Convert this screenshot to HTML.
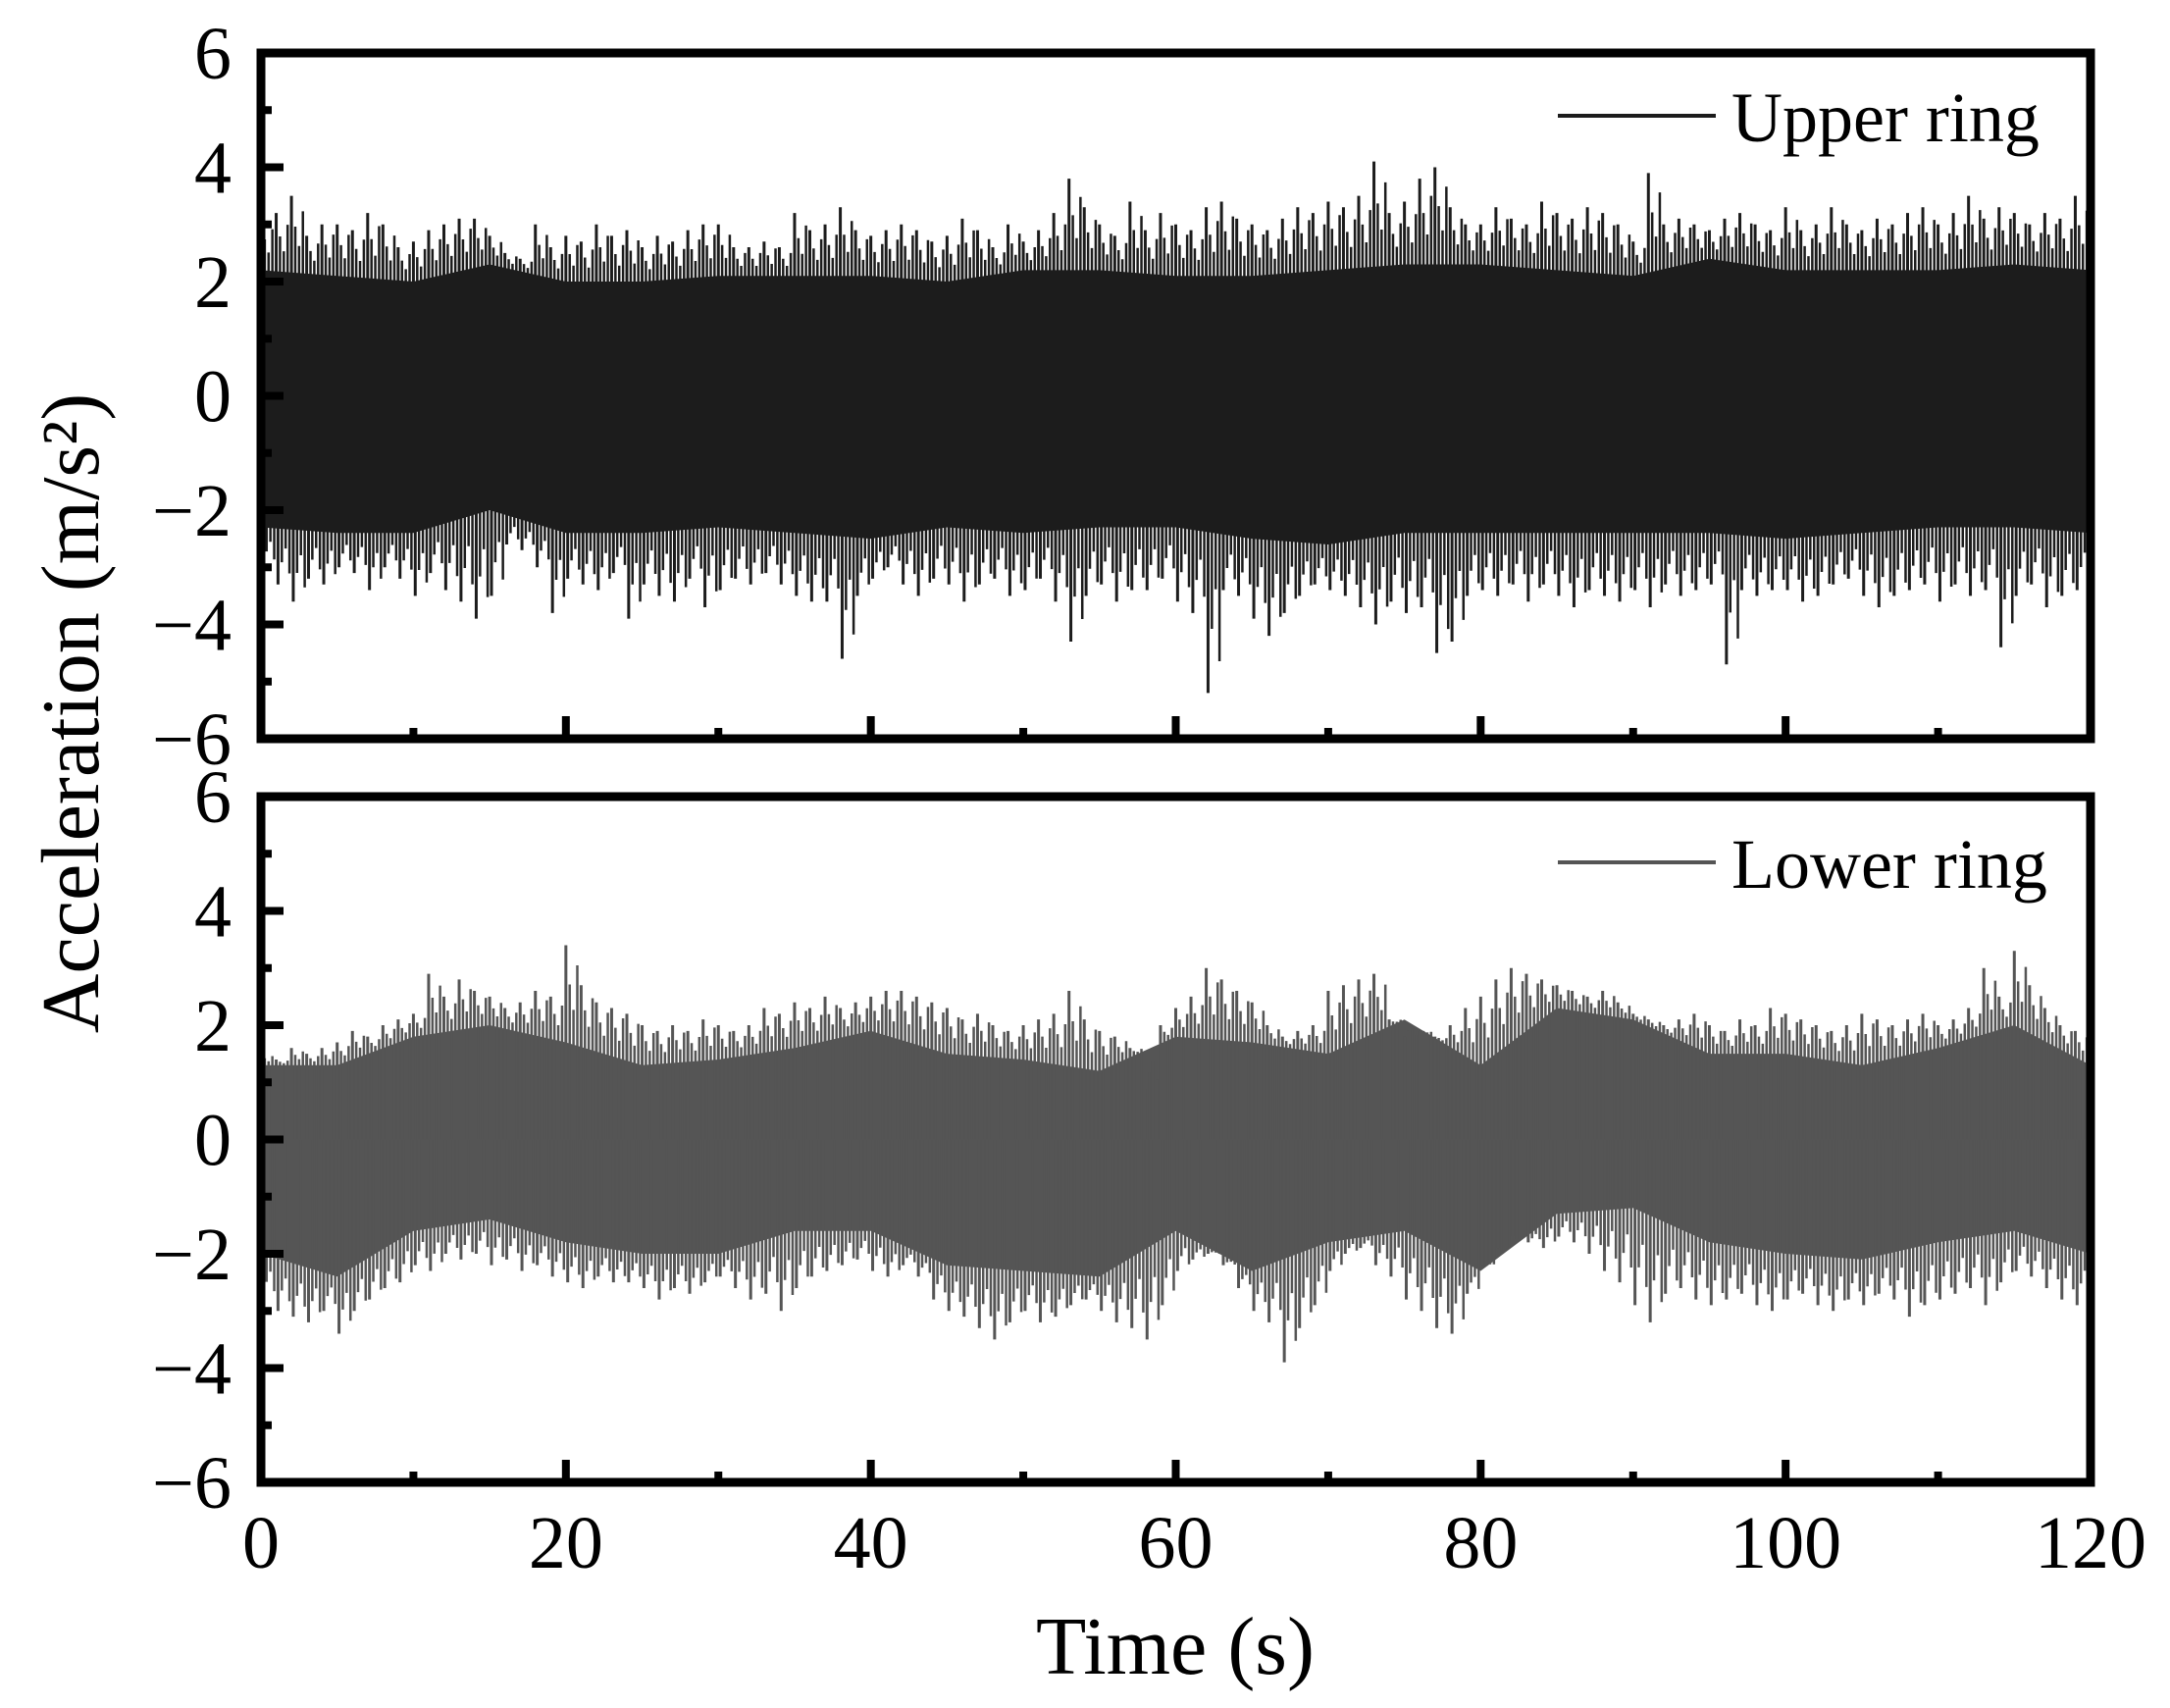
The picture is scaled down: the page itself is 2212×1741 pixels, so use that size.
<!DOCTYPE html>
<html><head><meta charset="utf-8"><style>
html,body{margin:0;padding:0;background:#fff;}
svg{display:block;font-family:"Liberation Serif",serif;}
</style></head><body>
<svg id="chart" width="2212" height="1741" viewBox="0 0 2212 1741" xmlns="http://www.w3.org/2000/svg">
<defs>
<clipPath id="clipTop"><rect x="266" y="54" width="1865" height="699"/></clipPath>
<clipPath id="clipBot"><rect x="266" y="812" width="1865" height="699"/></clipPath>
</defs>
<g id="topData" clip-path="url(#clipTop)"></g>
<g id="botData" clip-path="url(#clipBot)"></g>
<g id="axes"></g>
<text transform="translate(100,727) rotate(-90)" text-anchor="middle" font-size="84">Acceleration (m/s²)</text>
<text x="1198" y="1706" text-anchor="middle" font-size="84">Time (s)</text>
<g>
<line x1="1588" y1="118" x2="1749" y2="118" stroke="#1c1c1c" stroke-width="4"/>
<text x="1765" y="144" font-size="72">Upper ring</text>
</g>
<g>
<line x1="1588" y1="879" x2="1749" y2="879" stroke="#555" stroke-width="4"/>
<text x="1765" y="905" font-size="72">Lower ring</text>
</g>
</svg>
<script>
const xTicks = [0,20,40,60,80,100,120];
const yTicks = [-6,-4,-2,0,2,4,6];
const envTimes = [0,5,10,15,20,25,30,35,40,45,50,55,60,65,70,75,80,85,90,95,100,105,110,115,120];
const upperEnvTop = [2.2,2.1,2.0,2.3,2.0,2.0,2.1,2.1,2.1,2.0,2.2,2.2,2.1,2.1,2.2,2.3,2.3,2.2,2.1,2.4,2.2,2.2,2.2,2.3,2.2];
const upperEnvBot = [-2.3,-2.4,-2.4,-2.0,-2.4,-2.4,-2.3,-2.4,-2.5,-2.3,-2.4,-2.3,-2.3,-2.5,-2.6,-2.4,-2.4,-2.4,-2.4,-2.4,-2.5,-2.4,-2.3,-2.3,-2.4];
const upperPeakHi = [3.1,3.2,3.5,2.8,3.0,3.0,2.9,3.2,3.0,2.6,2.7,2.9,3.0,3.1,3.1,2.8,2.5,2.4,3.0,2.6,2.8,2.7,3.0,2.8,2.9,2.6,2.8,2.7,2.9,3.0,3.0,2.6,2.6,2.7,2.6,3.2,2.9,3.0,3.3,2.9,2.8,2.9,3.0,2.9,2.7,2.8,3.1,2.9,2.6,3.0,2.7,2.9,3.2,3.8,3.3,3.0,2.8,3.4,2.9,3.2,3.0,2.9,3.3,3.4,3.1,3.0,2.9,3.1,3.3,3.2,3.4,3.3,3.5,4.1,3.2,3.4,3.8,4.0,3.3,3.0,3.0,3.3,3.1,3.0,3.4,3.2,3.1,3.3,3.2,3.0,2.7,3.9,3.0,3.1,3.0,2.9,3.1,3.2,3.0,2.9,3.3,2.9,3.0,3.3,3.0,2.9,3.1,3.0,3.2,3.3,3.0,3.2,3.5,3.1,3.3,3.2,3.0,3.2,3.1,3.5,3.0];
const upperPeakLo = [-3.0,-3.3,-3.6,-3.2,-3.3,-3.0,-3.1,-3.4,-3.0,-3.2,-3.5,-3.1,-3.4,-3.6,-3.9,-3.5,-2.6,-2.7,-3.0,-3.8,-3.2,-3.3,-3.4,-3.1,-3.9,-3.3,-3.5,-3.6,-3.2,-3.7,-3.4,-3.2,-3.3,-3.1,-3.3,-3.5,-3.6,-3.6,-4.6,-3.5,-3.2,-3.0,-3.3,-3.5,-3.2,-3.3,-3.6,-3.3,-3.2,-3.5,-3.4,-3.2,-3.6,-4.3,-3.5,-3.3,-3.6,-3.4,-3.4,-3.2,-3.6,-3.8,-5.2,-3.4,-3.5,-3.9,-4.2,-3.8,-3.5,-3.3,-3.4,-3.5,-3.7,-4.0,-3.6,-3.8,-3.7,-4.5,-4.3,-3.5,-3.4,-3.5,-3.3,-3.6,-3.3,-3.5,-3.7,-3.4,-3.5,-3.6,-3.4,-3.7,-3.3,-3.5,-3.4,-3.3,-4.7,-3.4,-3.5,-3.4,-3.4,-3.6,-3.5,-3.3,-3.2,-3.5,-3.7,-3.5,-3.4,-3.3,-3.6,-3.3,-3.5,-3.4,-4.4,-3.5,-3.3,-3.7,-3.5,-3.4,-3.2];
const lowerEnvTop = [1.3,1.3,1.8,2.0,1.7,1.3,1.4,1.6,1.9,1.5,1.4,1.2,1.8,1.7,1.5,2.1,1.3,2.3,2.1,1.5,1.5,1.3,1.6,2.0,1.3];
const lowerEnvBot = [-2.0,-2.4,-1.6,-1.4,-1.8,-2.0,-2.0,-1.6,-1.6,-2.2,-2.3,-2.4,-1.6,-2.3,-1.8,-1.6,-2.3,-1.3,-1.2,-1.8,-2.0,-2.1,-1.8,-1.6,-2.0];
const lowerPeakHi = [1.5,1.4,1.6,1.5,1.6,1.7,1.9,1.8,2.0,2.1,2.2,2.9,2.5,2.8,2.6,2.5,2.3,2.4,2.6,2.5,3.4,2.7,2.4,2.3,2.2,2.0,1.9,2.0,1.9,2.1,2.0,1.9,2.0,2.3,2.2,2.4,2.3,2.5,2.3,2.4,2.5,2.6,2.6,2.5,2.4,2.3,2.1,2.2,2.0,1.9,2.0,2.1,2.2,2.6,2.1,1.9,1.8,1.6,0.9,2.0,2.3,2.5,3.0,2.8,2.6,2.4,2.0,1.8,1.9,2.0,2.6,2.7,2.8,2.9,2.1,1.8,1.9,1.8,2.0,2.3,2.5,2.8,3.0,2.9,2.8,2.7,2.6,2.5,2.6,2.4,2.2,2.1,2.0,2.1,2.2,2.0,1.9,2.1,2.0,2.3,2.2,2.1,2.0,1.9,2.0,2.2,2.1,2.0,2.1,2.2,2.0,2.1,2.3,3.0,2.5,3.3,2.7,2.3,2.0,1.9,1.8];
const lowerPeakLo = [-2.8,-3.0,-3.1,-3.2,-3.0,-3.4,-3.0,-2.8,-2.6,-2.5,-2.2,-2.3,-2.0,-2.1,-2.0,-2.2,-2.1,-2.3,-2.2,-2.4,-2.5,-2.6,-2.4,-2.5,-2.5,-2.6,-2.8,-2.6,-2.7,-2.5,-2.4,-2.6,-2.8,-2.7,-3.0,-2.6,-2.4,-2.3,-2.2,-2.1,-2.3,-2.4,-2.2,-2.4,-2.8,-3.0,-3.1,-3.3,-3.5,-3.2,-3.0,-3.2,-3.1,-2.9,-2.8,-3.0,-3.2,-3.3,-3.5,-2.9,-2.3,-2.1,-2.0,-2.2,-2.6,-3.0,-3.2,-3.9,-3.3,-2.9,-2.3,-2.0,-1.9,-2.2,-2.4,-2.8,-3.0,-3.3,-3.4,-2.7,-2.2,-1.9,-1.7,-1.8,-1.9,-1.7,-1.8,-2.0,-2.3,-2.5,-2.9,-3.2,-2.7,-2.6,-2.8,-2.9,-2.8,-2.7,-2.9,-3.0,-2.8,-2.7,-2.9,-3.0,-2.8,-2.9,-2.7,-2.8,-3.1,-2.9,-2.8,-2.7,-2.6,-2.9,-2.5,-2.3,-2.4,-2.6,-2.8,-2.9,-2.7];

const X0 = 266, X1 = 2131;
const panels = [{top:54,bot:753},{top:812,bot:1511}];
function xs(t){ return X0 + t/120*(X1-X0); }
function ys(p,v){ const c=(p.top+p.bot)/2; return c - v*(p.bot-p.top)/12; }
const NS = 'http://www.w3.org/2000/svg';
function mk(tag, attrs, parent){ const e=document.createElementNS(NS,tag); for(const k in attrs) e.setAttribute(k,attrs[k]); parent.appendChild(e); return e; }
function envAt(arr, t){
  const i = Math.min(Math.floor(t/5), arr.length-2);
  const f = (t - envTimes[i])/5;
  return arr[i] + (arr[i+1]-arr[i])*Math.max(0,Math.min(1,f));
}
const fracs = [[0,1,3],[0.25,0.6,2.5],[0.5,0.35,2.5],[0.75,0.8,2.5]];

function drawSeries(g, p, envTop, envBot, hi, lo, color){
  let d = '';
  envTimes.forEach((t,i)=>{ d += (i?'L':'M') + xs(t).toFixed(1) + ',' + ys(p,envTop[i]).toFixed(1); });
  for(let i=envTimes.length-1;i>=0;i--){ d += 'L' + xs(envTimes[i]).toFixed(1) + ',' + ys(p,envBot[i]).toFixed(1); }
  d += 'Z';
  const band = mk('path',{d:d,fill:color},g);
  
  
  hi.forEach((v,i)=>{
    fracs.forEach(fr=>{
      const t = i + fr[0];
      const e = envAt(envTop, t);
      const top = e + (v - e)*fr[1];
      const ln = mk('line',{x1:xs(t),x2:xs(t),y1:ys(p,0),y2:ys(p,top),stroke:color,'stroke-width':fr[2]},g);
      
      
    });
  });
  lo.forEach((v,i)=>{
    fracs.forEach(fr=>{
      const t = i + fr[0] + 0.12;
      const e = envAt(envBot, t);
      const bot = e + (v - e)*fr[1];
      const ln = mk('line',{x1:xs(t),x2:xs(t),y1:ys(p,0),y2:ys(p,bot),stroke:color,'stroke-width':fr[2]},g);
      
      
    });
  });
}
drawSeries(document.getElementById('topData'), panels[0], upperEnvTop, upperEnvBot, upperPeakHi, upperPeakLo, '#1c1c1c');
drawSeries(document.getElementById('botData'), panels[1], lowerEnvTop, lowerEnvBot, lowerPeakHi, lowerPeakLo, '#555555');

const ax = document.getElementById('axes');
panels.forEach((p,pi)=>{
  const fr = mk('rect',{x:X0,y:p.top,width:X1-X0,height:p.bot-p.top,fill:'none',stroke:'#000','stroke-width':9},ax);
  
  
  for(let v=-6; v<=6; v++){
    const major = v%2===0;
    const t = mk('line',{x1:X0,x2:X0+(major?23:11),y1:ys(p,v),y2:ys(p,v),stroke:'#000','stroke-width':8},ax);
    
    
  }
  yTicks.forEach(v=>{
    const lb = mk('text',{x:236,y:ys(p,v)+26,'text-anchor':'end','font-size':76},ax);
    lb.textContent = v<0 ? '\u2212'+Math.abs(v) : String(v);
    
    
  });
  for(let t=10; t<120; t+=10){
    const major = t%20===0;
    const tk = mk('line',{x1:xs(t),x2:xs(t),y1:p.bot,y2:p.bot-(major?23:11),stroke:'#000','stroke-width':8},ax);
    
    
  }
});
xTicks.forEach(t=>{
  const lb = mk('text',{x:xs(t),y:1598,'text-anchor':'middle','font-size':76},ax);
  lb.textContent = String(t);
  
  
});
</script>
</body></html>
